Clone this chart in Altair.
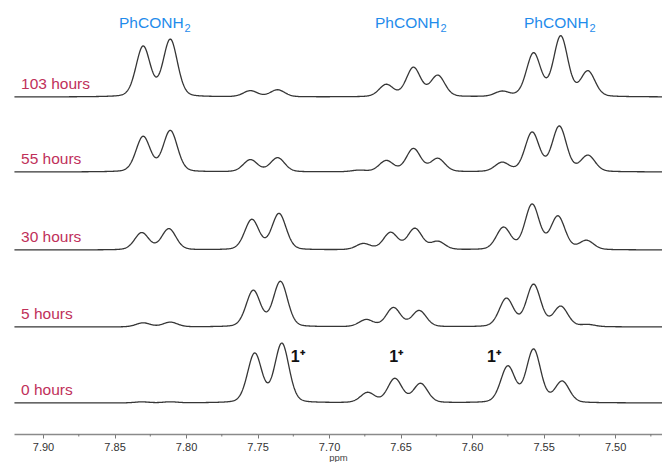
import numpy as np
import pandas as pd
import altair as alt

# ---- data: peak positions (ppm) and heights per trace ----
TRACES = ["0 hours", "5 hours", "30 hours", "55 hours", "103 hours"]

PPM_0 = [7.831, 7.811, 7.752, 7.733, 7.673, 7.654, 7.636, 7.575, 7.557, 7.537]
INT_0 = [1.0, 1.0, 49, 59, 10, 24, 19, 36, 53, 21]

PPM_5 = [7.830, 7.811, 7.753, 7.734, 7.674, 7.655, 7.637, 7.576, 7.557, 7.538, 7.519]
INT_5 = [4.0, 4.7, 36, 45, 7, 19, 16, 28, 42, 20, 2]

PPM_30 = [7.831, 7.812, 7.754, 7.735, 7.676, 7.657, 7.640, 7.624, 7.578, 7.558, 7.540, 7.520]
INT_30 = [17, 21, 30, 36, 6, 17, 21, 8, 22, 45, 33, 9]

PPM_55 = [7.830, 7.811, 7.755, 7.736, 7.679, 7.660, 7.641, 7.624, 7.579, 7.558, 7.539, 7.519]
INT_55 = [35, 41, 12, 14, 1.5, 11, 23, 13, 9, 39, 45, 16]

PPM_103 = [7.830, 7.811, 7.755, 7.736, 7.660, 7.641, 7.624, 7.579, 7.557, 7.538, 7.519]
INT_103 = [50, 57, 6, 7, 12, 29, 21, 5, 43, 60, 25]

PEAKS = [(PPM_0, INT_0), (PPM_5, INT_5), (PPM_30, INT_30), (PPM_55, INT_55), (PPM_103, INT_103)]

MAJOR_TICKS = [7.50, 7.55, 7.60, 7.65, 7.70, 7.75, 7.80, 7.85, 7.90]
MINOR_TICKS = [7.475, 7.525, 7.575, 7.625, 7.675, 7.725, 7.775, 7.825, 7.875]

ANNOT_MAIN = ["PhCONH", "PhCONH", "PhCONH"]
ANNOT_SUB = ["2", "2", "2"]
ANNOT_PPM = [7.8217, 7.6427, 7.5385]

ION_TEXT = ["1⁺", "1⁺", "1⁺"]
ION_PPM = [7.7268, 7.6580, 7.5895]

# ---- layout constants ----
X_HI, X_LO = 7.9203, 7.4672
PLOT_W, PLOT_H = 648, 426
OFFSETS = [31, 107, 184, 262, 337]     # vertical stacking of the traces
SIGMA = 0.0050
ETA = 0.2

grid = np.arange(X_LO, X_HI + 1e-9, 0.0004)
gam = SIGMA * np.sqrt(2 * np.log(2))

rows = []
for name, (pos, amp), off in zip(TRACES, PEAKS, OFFSETS):
    s = np.zeros_like(grid)
    for p, a in zip(pos, amp):
        d = grid - p
        s += a * ((1 - ETA) * np.exp(-0.5 * (d / SIGMA) ** 2) + ETA * gam ** 2 / (d ** 2 + gam ** 2))
    rows.append(pd.DataFrame({"ppm": grid, "y": s + off, "trace": name}))
spec = pd.concat(rows, ignore_index=True)

hours_df = pd.DataFrame({"ppm": [7.9154] * 5, "y": [o + 5 for o in OFFSETS], "label": TRACES})
annot_df = pd.DataFrame({"ppm": ANNOT_PPM, "y": [406] * 3, "main": ANNOT_MAIN, "sub": ANNOT_SUB})
ion_df = pd.DataFrame({"ppm": ION_PPM, "y": [72] * 3, "label": ION_TEXT})
minor_df = pd.DataFrame({"ppm": MINOR_TICKS, "y": [0.0] * len(MINOR_TICKS), "y2": [-2.5] * len(MINOR_TICKS)})

FONT = "Liberation Sans"
x_scale = alt.Scale(domain=[X_LO, X_HI], reverse=True, nice=False, zero=False)
y_scale = alt.Scale(domain=[0, PLOT_H], nice=False, zero=False)

x_axis = alt.Axis(
    values=MAJOR_TICKS, format=".2f",
    tickSize=4, tickColor="#777777", tickWidth=1,
    domainColor="#8a8a8a", domainWidth=1.5,
    labelFont=FONT, labelFontSize=11, labelColor="#333333", labelPadding=3,
    labelFlush=False, labelOverlap=False,
    title="ppm", titleFont=FONT, titleFontSize=9.5, titleFontWeight="normal",
    titleColor="#444444", titlePadding=0, grid=False,
)

lines = alt.Chart(spec).mark_line(color="#363636", strokeWidth=1.3, clip=True).encode(
    x=alt.X("ppm:Q", scale=x_scale, axis=x_axis),
    y=alt.Y("y:Q", scale=y_scale, axis=None),
    detail="trace:N",
    order="ppm:Q",
)

minor = alt.Chart(minor_df).mark_rule(color="#777777", strokeWidth=1).encode(
    x="ppm:Q", y="y:Q", y2="y2:Q"
)

hours = alt.Chart(hours_df).mark_text(
    align="left", baseline="bottom", font=FONT, fontSize=15.5, color="#c0305a"
).encode(x="ppm:Q", y="y:Q", text="label:N")

annots_main = alt.Chart(annot_df).mark_text(
    align="left", baseline="alphabetic", dx=-36, font=FONT, fontSize=15.5, color="#1f8ceb"
).encode(x="ppm:Q", y="y:Q", text="main:N")

annots_sub = alt.Chart(annot_df).mark_text(
    align="left", baseline="alphabetic", dx=29.5, dy=4, font=FONT, fontSize=11, color="#1f8ceb"
).encode(x="ppm:Q", y="y:Q", text="sub:N")

ions = alt.Chart(ion_df).mark_text(
    align="left", baseline="alphabetic", font=FONT, fontSize=16, fontWeight="bold", color="#111111"
).encode(x="ppm:Q", y="y:Q", text="label:N")

chart = alt.layer(lines, minor, hours, annots_main, annots_sub, ions).properties(
    width=PLOT_W, height=PLOT_H,
    padding={"left": 6, "top": 0, "right": 0, "bottom": 30},
    autosize=alt.AutoSizeParams(type="none"),
    background="white",
).configure_view(stroke=None)

chart.save("out.html", embed_options={"renderer": "svg", "actions": False})
